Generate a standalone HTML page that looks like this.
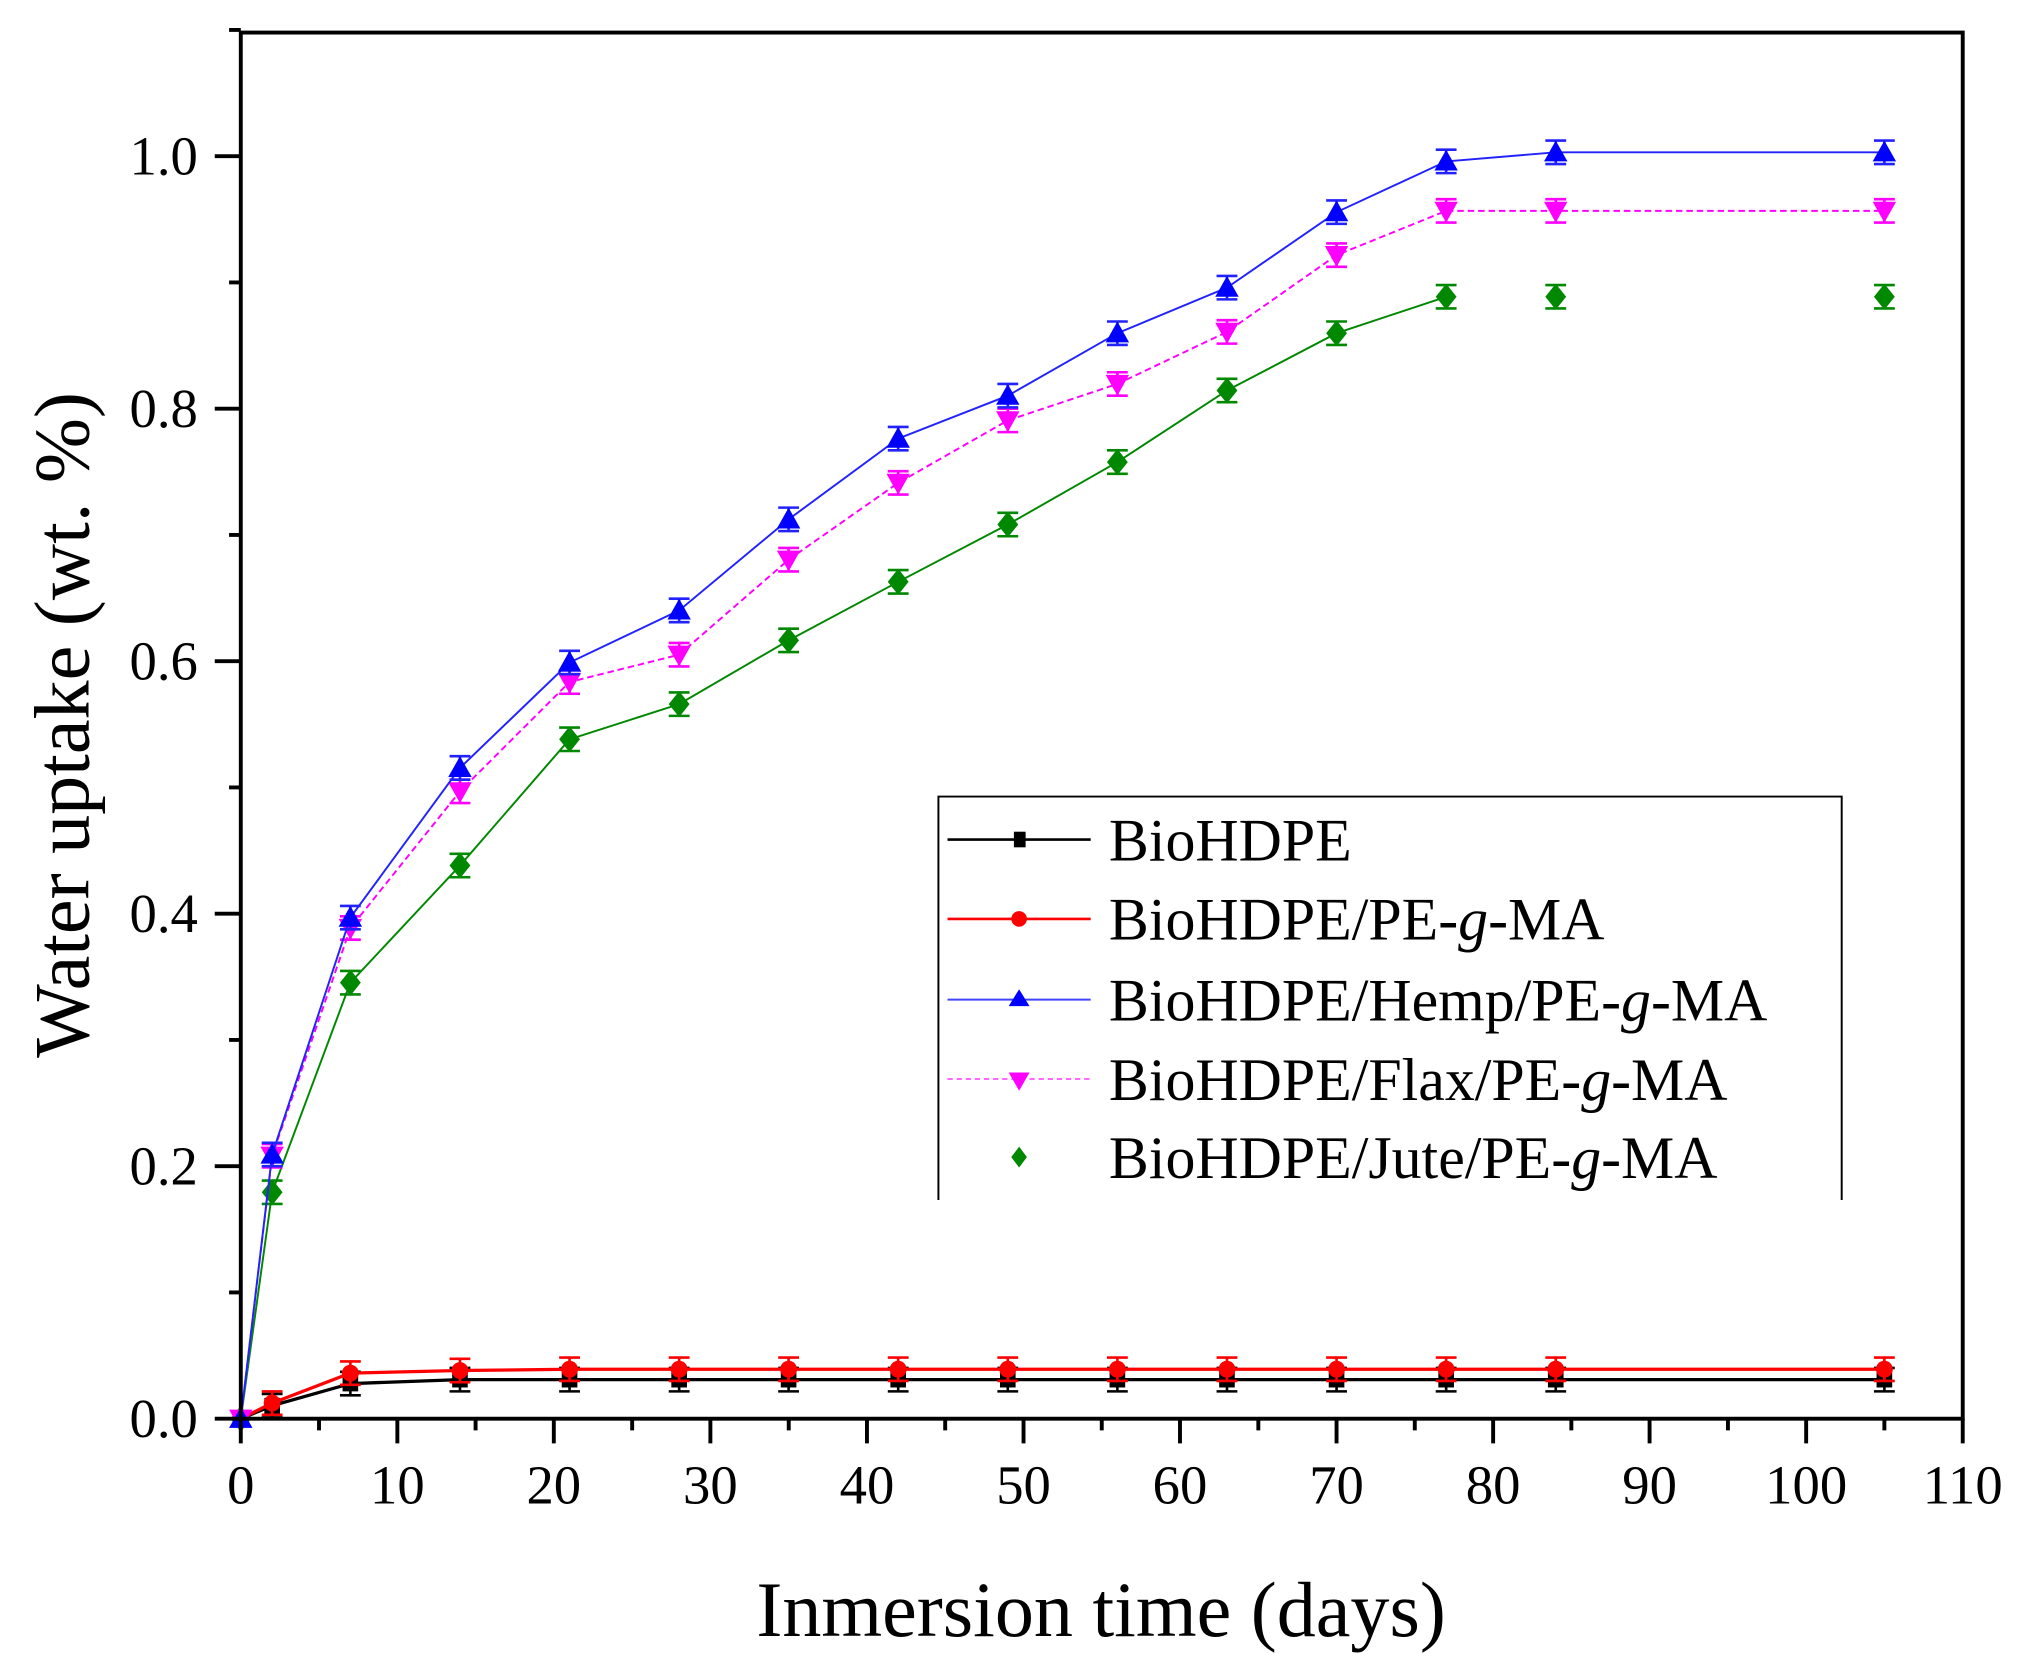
<!DOCTYPE html>
<html><head><meta charset="utf-8"><style>html,body{margin:0;padding:0;background:#fff}svg{display:block}</style></head>
<body>
<svg width="2020" height="1653" viewBox="0 0 1552 1270" xmlns="http://www.w3.org/2000/svg" xmlns:xlink="http://www.w3.org/1999/xlink" font-family="Liberation Serif, serif">
<defs>
<path id="eb" d="M0,-9V9M-8,-9H8M-8,9H8" fill="none" stroke-width="2"/>
<rect id="sq" x="-6" y="-6" width="12" height="12"/>
<circle id="ci" r="6.5"/>
<polygon id="up" points="0,-9 9,7 -9,7"/>
<polygon id="dn" points="-9,-7 9,-7 0,9"/>
<polygon id="di" points="0,-10 8,0 0,10 -8,0"/>
</defs>
<rect width="1552" height="1270" fill="#fff"/>

<!-- black -->
<g stroke="#000" fill="#000">
<polyline fill="none" stroke-width="2.5" points="185,1090 209.1,1080 269.2,1063 353.4,1060 437.6,1060 521.8,1060 605.9,1060 690.1,1060 774.3,1060 858.5,1060 942.7,1060 1026.9,1060 1111.1,1060 1195.3,1060 1447.8,1060"/>
<g stroke="#000"><use href="#eb" x="209.1" y="1080"/><use href="#eb" x="269.2" y="1063"/><use href="#eb" x="353.4" y="1060"/><use href="#eb" x="437.6" y="1060"/><use href="#eb" x="521.8" y="1060"/><use href="#eb" x="605.9" y="1060"/><use href="#eb" x="690.1" y="1060"/><use href="#eb" x="774.3" y="1060"/><use href="#eb" x="858.5" y="1060"/><use href="#eb" x="942.7" y="1060"/><use href="#eb" x="1026.9" y="1060"/><use href="#eb" x="1111.1" y="1060"/><use href="#eb" x="1195.3" y="1060"/><use href="#eb" x="1447.8" y="1060"/></g>
<g stroke="none"><use href="#sq" x="185" y="1090"/><use href="#sq" x="209.1" y="1080"/><use href="#sq" x="269.2" y="1063"/><use href="#sq" x="353.4" y="1060"/><use href="#sq" x="437.6" y="1060"/><use href="#sq" x="521.8" y="1060"/><use href="#sq" x="605.9" y="1060"/><use href="#sq" x="690.1" y="1060"/><use href="#sq" x="774.3" y="1060"/><use href="#sq" x="858.5" y="1060"/><use href="#sq" x="942.7" y="1060"/><use href="#sq" x="1026.9" y="1060"/><use href="#sq" x="1111.1" y="1060"/><use href="#sq" x="1195.3" y="1060"/><use href="#sq" x="1447.8" y="1060"/></g>
</g>
<!-- red -->
<g stroke="#f00" fill="#f00">
<polyline fill="none" stroke-width="2.5" points="185,1090 209.1,1078 269.2,1055 353.4,1053 437.6,1052 521.8,1052 605.9,1052 690.1,1052 774.3,1052 858.5,1052 942.7,1052 1026.9,1052 1111.1,1052 1195.3,1052 1447.8,1052"/>
<g><use href="#eb" x="209.1" y="1078"/><use href="#eb" x="269.2" y="1055"/><use href="#eb" x="353.4" y="1053"/><use href="#eb" x="437.6" y="1052"/><use href="#eb" x="521.8" y="1052"/><use href="#eb" x="605.9" y="1052"/><use href="#eb" x="690.1" y="1052"/><use href="#eb" x="774.3" y="1052"/><use href="#eb" x="858.5" y="1052"/><use href="#eb" x="942.7" y="1052"/><use href="#eb" x="1026.9" y="1052"/><use href="#eb" x="1111.1" y="1052"/><use href="#eb" x="1195.3" y="1052"/><use href="#eb" x="1447.8" y="1052"/></g>
<g stroke="none"><use href="#ci" x="185" y="1090"/><use href="#ci" x="209.1" y="1078"/><use href="#ci" x="269.2" y="1055"/><use href="#ci" x="353.4" y="1053"/><use href="#ci" x="437.6" y="1052"/><use href="#ci" x="521.8" y="1052"/><use href="#ci" x="605.9" y="1052"/><use href="#ci" x="690.1" y="1052"/><use href="#ci" x="774.3" y="1052"/><use href="#ci" x="858.5" y="1052"/><use href="#ci" x="942.7" y="1052"/><use href="#ci" x="1026.9" y="1052"/><use href="#ci" x="1111.1" y="1052"/><use href="#ci" x="1195.3" y="1052"/><use href="#ci" x="1447.8" y="1052"/></g>
</g>
<!-- green -->
<g stroke="#080" fill="#080">
<polyline fill="none" stroke-width="1.5" points="185,1090 209.1,916 269.2,755 353.4,665 437.6,568 521.8,541 605.9,492 690.1,447 774.3,403 858.5,355 942.7,300 1026.9,256 1111.1,228"/>
<g><use href="#eb" x="209.1" y="916"/><use href="#eb" x="269.2" y="755"/><use href="#eb" x="353.4" y="665"/><use href="#eb" x="437.6" y="568"/><use href="#eb" x="521.8" y="541"/><use href="#eb" x="605.9" y="492"/><use href="#eb" x="690.1" y="447"/><use href="#eb" x="774.3" y="403"/><use href="#eb" x="858.5" y="355"/><use href="#eb" x="942.7" y="300"/><use href="#eb" x="1026.9" y="256"/><use href="#eb" x="1111.1" y="228"/><use href="#eb" x="1195.3" y="228"/><use href="#eb" x="1447.8" y="228"/></g>
<g stroke="none"><use href="#di" x="185" y="1090"/><use href="#di" x="209.1" y="916"/><use href="#di" x="269.2" y="755"/><use href="#di" x="353.4" y="665"/><use href="#di" x="437.6" y="568"/><use href="#di" x="521.8" y="541"/><use href="#di" x="605.9" y="492"/><use href="#di" x="690.1" y="447"/><use href="#di" x="774.3" y="403"/><use href="#di" x="858.5" y="355"/><use href="#di" x="942.7" y="300"/><use href="#di" x="1026.9" y="256"/><use href="#di" x="1111.1" y="228"/><use href="#di" x="1195.3" y="228"/><use href="#di" x="1447.8" y="228"/></g>
</g>
<!-- magenta -->
<g stroke="#f0f" fill="#f0f">
<polyline fill="none" stroke-width="1.5" stroke-dasharray="5,3" points="185,1090 209.1,888 269.2,713 353.4,608 437.6,524 521.8,503 605.9,430 690.1,371 774.3,323 858.5,295 942.7,255 1026.9,196 1111.1,162 1195.3,162 1447.8,162"/>
<g><use href="#eb" x="209.1" y="888"/><use href="#eb" x="269.2" y="713"/><use href="#eb" x="353.4" y="608"/><use href="#eb" x="437.6" y="524"/><use href="#eb" x="521.8" y="503"/><use href="#eb" x="605.9" y="430"/><use href="#eb" x="690.1" y="371"/><use href="#eb" x="774.3" y="323"/><use href="#eb" x="858.5" y="295"/><use href="#eb" x="942.7" y="255"/><use href="#eb" x="1026.9" y="196"/><use href="#eb" x="1111.1" y="162"/><use href="#eb" x="1195.3" y="162"/><use href="#eb" x="1447.8" y="162"/></g>
<g stroke="none"><use href="#dn" x="185" y="1090"/><use href="#dn" x="209.1" y="888"/><use href="#dn" x="269.2" y="713"/><use href="#dn" x="353.4" y="608"/><use href="#dn" x="437.6" y="524"/><use href="#dn" x="521.8" y="503"/><use href="#dn" x="605.9" y="430"/><use href="#dn" x="690.1" y="371"/><use href="#dn" x="774.3" y="323"/><use href="#dn" x="858.5" y="295"/><use href="#dn" x="942.7" y="255"/><use href="#dn" x="1026.9" y="196"/><use href="#dn" x="1111.1" y="162"/><use href="#dn" x="1195.3" y="162"/><use href="#dn" x="1447.8" y="162"/></g>
</g>
<!-- blue -->
<g stroke="#22f" fill="#00f">
<polyline fill="none" stroke-width="1.5" points="185,1090 209.1,887 269.2,705 353.4,590 437.6,509 521.8,469 605.9,399 690.1,337 774.3,304 858.5,256 942.7,221 1026.9,163 1111.1,124 1195.3,117 1447.8,117"/>
<g><use href="#eb" x="209.1" y="887"/><use href="#eb" x="269.2" y="705"/><use href="#eb" x="353.4" y="590"/><use href="#eb" x="437.6" y="509"/><use href="#eb" x="521.8" y="469"/><use href="#eb" x="605.9" y="399"/><use href="#eb" x="690.1" y="337"/><use href="#eb" x="774.3" y="304"/><use href="#eb" x="858.5" y="256"/><use href="#eb" x="942.7" y="221"/><use href="#eb" x="1026.9" y="163"/><use href="#eb" x="1111.1" y="124"/><use href="#eb" x="1195.3" y="117"/><use href="#eb" x="1447.8" y="117"/></g>
<g stroke="none"><use href="#up" x="185" y="1090"/><use href="#up" x="209.1" y="887"/><use href="#up" x="269.2" y="705"/><use href="#up" x="353.4" y="590"/><use href="#up" x="437.6" y="509"/><use href="#up" x="521.8" y="469"/><use href="#up" x="605.9" y="399"/><use href="#up" x="690.1" y="337"/><use href="#up" x="774.3" y="304"/><use href="#up" x="858.5" y="256"/><use href="#up" x="942.7" y="221"/><use href="#up" x="1026.9" y="163"/><use href="#up" x="1111.1" y="124"/><use href="#up" x="1195.3" y="117"/><use href="#up" x="1447.8" y="117"/></g>
</g>

<!-- frame -->
<rect x="185" y="25" width="1323" height="1065" fill="none" stroke="#000" stroke-width="3"/>
<path stroke="#000" stroke-width="3" d="M185,1090v19M245.1,1090v9M305.3,1090v19M365.4,1090v9M425.5,1090v19M485.7,1090v9M545.8,1090v19M606,1090v9M666.1,1090v19M726.2,1090v9M786.4,1090v19M846.5,1090v9M906.6,1090v19M966.8,1090v9M1026.9,1090v19M1087,1090v9M1147.2,1090v19M1207.3,1090v9M1267.4,1090v19M1327.6,1090v9M1387.7,1090v19M1447.8,1090v9M1508,1090v19
M185,1090h-20M185,993h-9M185,896h-20M185,799h-9M185,702h-20M185,605h-9M185,508h-20M185,411h-9M185,314h-20M185,217h-9M185,120h-20M185,23h-9"/>
<g font-size="42" fill="#000" text-anchor="middle">
<text x="185" y="1155">0</text><text x="305.3" y="1155">10</text><text x="425.5" y="1155">20</text><text x="545.8" y="1155">30</text><text x="666.1" y="1155">40</text><text x="786.4" y="1155">50</text><text x="906.6" y="1155">60</text><text x="1026.9" y="1155">70</text><text x="1147.2" y="1155">80</text><text x="1267.4" y="1155">90</text><text x="1387.7" y="1155">100</text><text x="1508" y="1155">110</text>
</g>
<g font-size="42" fill="#000" text-anchor="end">
<text x="152" y="1104">0.0</text><text x="152" y="910">0.2</text><text x="152" y="716">0.4</text><text x="152" y="522">0.6</text><text x="152" y="328">0.8</text><text x="152" y="134">1.0</text>
</g>
<text x="846" y="1257" font-size="60" text-anchor="middle">Inmersion time (days)</text>
<text transform="translate(68,557) rotate(-90)" font-size="60" text-anchor="middle">Water uptake (wt. %)</text>
<!-- legend -->
<path d="M721,922 V612 H1415 V922" fill="none" stroke="#000" stroke-width="1.5"/>
<g font-size="46">
<line x1="728" y1="645" x2="838" y2="645" stroke="#000" stroke-width="2"/><rect x="779" y="639" width="9" height="12" fill="#000"/>
<text x="852" y="661">BioHDPE</text>
<line x1="728" y1="706" x2="838" y2="706" stroke="#f00" stroke-width="2"/><circle cx="783" cy="706" r="6" fill="#f00"/>
<text x="852" y="722">BioHDPE/PE-<tspan font-style="italic">g</tspan>-MA</text>
<line x1="728" y1="768" x2="838" y2="768" stroke="#44f" stroke-width="1.5"/><polygon points="783,760 791,773 775,773" fill="#00f"/>
<text x="852" y="784">BioHDPE/Hemp/PE-<tspan font-style="italic">g</tspan>-MA</text>
<line x1="728" y1="829" x2="838" y2="829" stroke="#f6f" stroke-width="1.5" stroke-dasharray="4,3"/><polygon points="775,824 791,824 783,838" fill="#f0f"/>
<text x="852" y="845">BioHDPE/Flax/PE-<tspan font-style="italic">g</tspan>-MA</text>
<polygon points="783,881 789,889 783,897 777,889" fill="#080"/>
<text x="852" y="905">BioHDPE/Jute/PE-<tspan font-style="italic">g</tspan>-MA</text>
</g>
</svg>
</body></html>
